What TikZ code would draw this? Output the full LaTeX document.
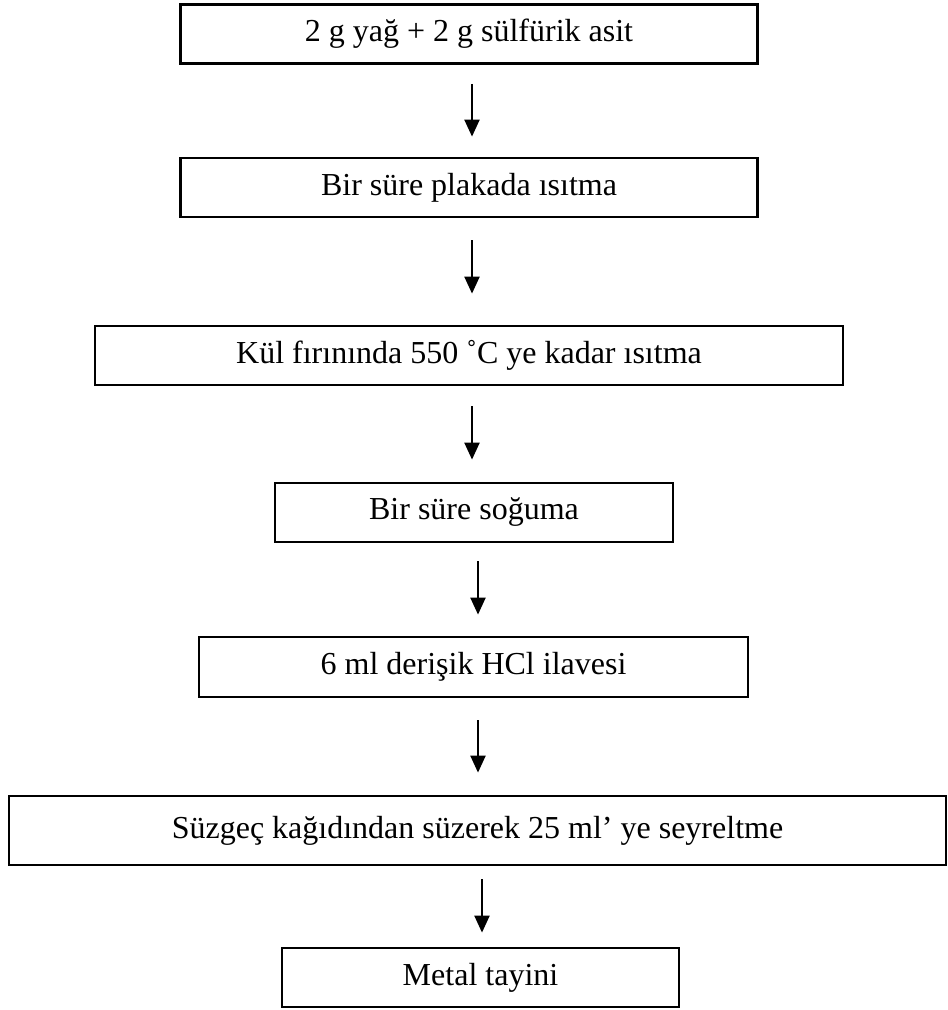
\documentclass[tikz,border=0pt]{standalone}
\usepackage{fontspec}
\setmainfont{Liberation Serif}
\usetikzlibrary{arrows.meta, positioning}

\begin{document}
\begin{tikzpicture}[x=1pt, y=-1pt,
    kutu/.style={draw, line width=2.8pt, inner sep=0pt, minimum height=59pt,
                 font=\fontsize{32}{38}\selectfont},
    ok/.style={-{Triangle[length=17pt, width=15pt]}, line width=2.2pt}]
% page frame
\useasboundingbox (0,0) rectangle (948,1010);
% steps
\node[kutu, minimum width=577pt] (s1) at (469,34)    {2 g yağ + 2 g sülfürik asit};
\node[kutu, minimum width=577pt] (s2) at (469,187.5) {Bir süre plakada ısıtma};
\node[kutu, minimum width=748pt] (s3) at (469,355.5) {Kül fırınında 550 ˚C ye kadar ısıtma};
\node[kutu, minimum width=398pt] (s4) at (474,512.5) {Bir süre soğuma};
\node[kutu, minimum width=549pt, minimum height=60pt] (s5) at (473.5,667) {6 ml derişik HCl ilavesi};
\node[kutu, minimum width=937pt, minimum height=69pt] (s6) at (477.5,830.5) {Süzgeç kağıdından süzerek 25 ml’ ye seyreltme};
\node[kutu, minimum width=397pt] (s7) at (480.5,977.5) {Metal tayini};
% arrows between steps
\draw[ok, shorten <=19pt, shorten >=20pt] (s1.south -| 472,0) -- (s2.north -| 472,0);
\draw[ok, shorten <=22pt, shorten >=31pt] (s2.south -| 472,0) -- (s3.north -| 472,0);
\draw[ok, shorten <=20pt, shorten >=22pt] (s3.south -| 472,0) -- (s4.north -| 472,0);
\draw[ok, shorten <=18pt, shorten >=21pt] (s4.south -| 478,0) -- (s5.north -| 478,0);
\draw[ok, shorten <=22pt, shorten >=22pt] (s5.south -| 478,0) -- (s6.north -| 478,0);
\draw[ok, shorten <=13pt, shorten >=14pt] (s6.south -| 482,0) -- (s7.north -| 482,0);
\end{tikzpicture}
\end{document}
